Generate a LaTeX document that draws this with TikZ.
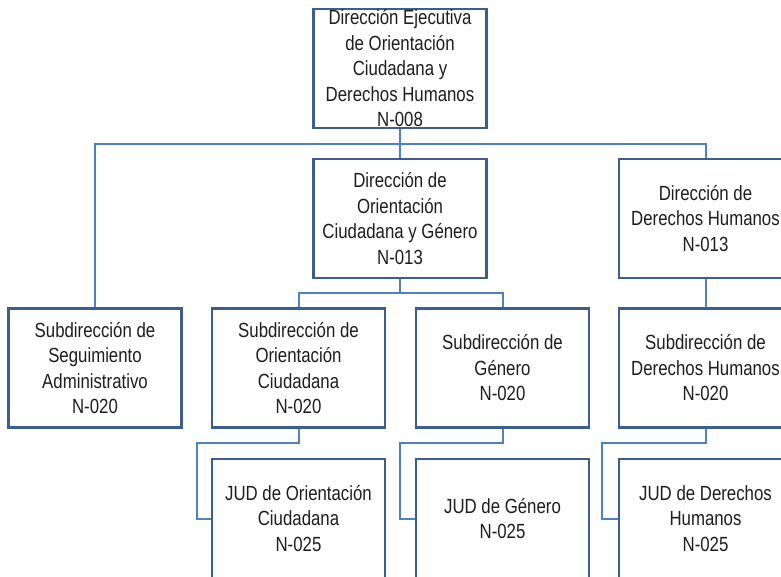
\documentclass[tikz,border=0pt]{standalone}
\usepackage{fontspec}
\setmainfont{Liberation Sans}[FakeStretch=0.82]
\definecolor{boxline}{HTML}{3B5E8F}
\definecolor{connline}{HTML}{4F81BD}
\definecolor{txt}{HTML}{1E1E1E}
\begin{document}
\begin{tikzpicture}[x=1pt,y=-1pt,
  box/.style={draw=boxline,line width=2.2pt,fill=white,minimum width=173pt,minimum height=119pt,
    align=center,inner sep=0pt,text=txt,font=\fontsize{20.5}{25.5}\selectfont},
  conn/.style={draw=connline,line width=2pt}]
\useasboundingbox (0,0) rectangle (781,577);
\clip (0,0) rectangle (781,577);
\fill[white] (0,0) rectangle (781,577);
\coordinate (bus) at (0,144);
\coordinate (bus2) at (0,293);
\coordinate (e1) at (197,443);
\coordinate (e2) at (400,443);
\coordinate (e3) at (602,443);
\node[box] (top) at (400,68.5) {Dirección Ejecutiva\\de Orientación\\Ciudadana y\\Derechos Humanos\\N-008};
\node[box] (mid) at (400,218.5) {Dirección de\\Orientación\\Ciudadana y Género\\N-013};
\node[box] (rd) at (705.5,218.5) {Dirección de\\Derechos Humanos\\N-013};
\node[box] (A) at (95,368) {Subdirección de\\Seguimiento\\Administrativo\\N-020};
\node[box] (B) at (298.5,368) {Subdirección de\\Orientación\\Ciudadana\\N-020};
\node[box] (C) at (502.5,368) {Subdirección de\\Género\\N-020};
\node[box] (D) at (705.5,368) {Subdirección de\\Derechos Humanos\\N-020};
\node[box] (E) at (298.5,518.5) {JUD de Orientación\\Ciudadana\\N-025};
\node[box] (F) at (502.5,518.5) {JUD de Género\\N-025};
\node[box] (G) at (705.5,518.5) {JUD de Derechos\\Humanos\\N-025};
\draw[conn] (top.south) -- (mid.north);
\draw[conn] (A.north) -- (A.north |- bus) -- (rd.north |- bus) -- (rd.north);
\draw[conn] (mid.south) -- (mid.south |- bus2);
\draw[conn] (B.north) -- (B.north |- bus2) -- (C.north |- bus2) -- (C.north);
\draw[conn] (rd.south) -- (D.north);
\draw[conn] (B.south) |- (e1) |- (E.west);
\draw[conn] (C.south) |- (e2) |- (F.west);
\draw[conn] (D.south) |- (e3) |- (G.west);
\end{tikzpicture}
\end{document}
